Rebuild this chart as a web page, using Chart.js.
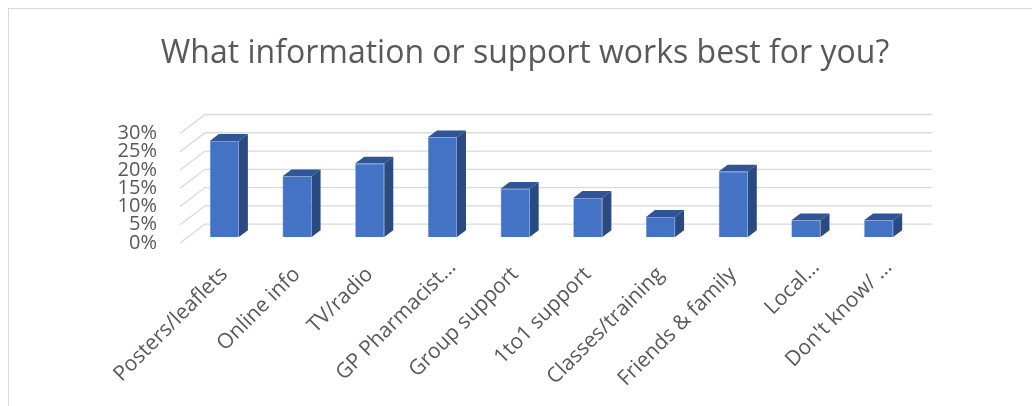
<!DOCTYPE html>
<html>
<head>
<meta charset="utf-8">
<title>What information or support works best for you?</title>
<script src="https://cdn.jsdelivr.net/npm/chart.js@4.4.1/dist/chart.umd.min.js"></script>
<style>
  html, body { margin: 0; padding: 0; background: #ffffff; overflow: hidden; }
  #wrap { position: relative; width: 1032px; height: 406px; }
  #frame { position: absolute; left: 8px; top: 8px; width: 1100px; height: 500px;
           border-top: 1px solid #d9d9d9; border-left: 1px solid #d9d9d9; pointer-events: none; }
  canvas { display: block; }
</style>
</head>
<body>
<div id="wrap">
  <canvas id="chart" width="1032" height="406"></canvas>
  <div id="frame"></div>
</div>
<script>
// Survey answers and the share of respondents choosing each (percent)
const categories = [
  "Posters/leaflets", "Online info", "TV/radio", "GP Pharmacist\u2026", "Group support",
  "1to1 support", "Classes/training", "Friends & family", "Local\u2026", "Don't know/ \u2026"
];
const shares = [26.3, 16.6, 20.1, 27.3, 13.2, 10.7, 5.5, 17.9, 4.6, 4.6];
const percentTicks = [0, 5, 10, 15, 20, 25, 30];

const TEXT_GREY = "#595959";
const FONT = "'Open Sans', 'DejaVu Sans', sans-serif";

// Oblique projection of the floor depth: bars sit a little behind the front edge
const FRONT = { x: -8, y: 6.1 };     // bar plane -> front wall edge
const BACK = { x: 17, y: -12.9 };    // bar plane -> back wall
const BAR_DEPTH = { x: 9, y: -6.8 }; // thickness of each column

// Side wall diagonals plus back wall gridlines
const wallGrid = {
  id: "wallGrid",
  beforeDatasetsDraw(chart) {
    const { ctx, chartArea, scales } = chart;
    ctx.save();
    ctx.strokeStyle = "#d9d9d9";
    ctx.lineWidth = 1.3;
    percentTicks.forEach(v => {
      const y = scales.y.getPixelForValue(v);
      ctx.beginPath();
      ctx.moveTo(chartArea.left + FRONT.x, y + FRONT.y);
      ctx.lineTo(chartArea.left + BACK.x, y + BACK.y);
      ctx.lineTo(chartArea.right + BACK.x, y + BACK.y);
      ctx.stroke();
    });
    ctx.restore();
  }
};

// Top and right faces of every column
const columnFaces = {
  id: "columnFaces",
  afterDatasetsDraw(chart) {
    const { ctx } = chart;
    const meta = chart.getDatasetMeta(0);
    ctx.save();
    meta.data.forEach(bar => {
      const p = bar.getProps(["x", "y", "base", "width"], true);
      const x0 = p.x - p.width / 2, x1 = p.x + p.width / 2;
      const yt = p.y, yb = p.base;
      // top
      ctx.fillStyle = "#2f5597";
      ctx.beginPath();
      ctx.moveTo(x0, yt);
      ctx.lineTo(x1, yt);
      ctx.lineTo(x1 + BAR_DEPTH.x, yt + BAR_DEPTH.y);
      ctx.lineTo(x0 + BAR_DEPTH.x, yt + BAR_DEPTH.y);
      ctx.closePath();
      ctx.fill();
      // right side
      ctx.fillStyle = "#2a4b82";
      ctx.beginPath();
      ctx.moveTo(x1, yt);
      ctx.lineTo(x1 + BAR_DEPTH.x, yt + BAR_DEPTH.y);
      ctx.lineTo(x1 + BAR_DEPTH.x, yb + BAR_DEPTH.y);
      ctx.lineTo(x1, yb);
      ctx.closePath();
      ctx.fill();
    });
    ctx.restore();
  }
};

// Slanted category labels under the floor
const slantedLabels = {
  id: "slantedLabels",
  afterDraw(chart) {
    const { ctx, scales } = chart;
    const xs = scales.x;
    ctx.save();
    ctx.fillStyle = TEXT_GREY;
    ctx.font = "21px " + FONT;
    ctx.textAlign = "right";
    ctx.textBaseline = "middle";
    categories.forEach((label, i) => {
      let ax = xs.getPixelForTick(i);
      let ay = 271;
      // wrapped, truncated names keep only their first line, set higher up
      if (label.endsWith("\u2026")) { ax += 10; ay -= 7; }
      ctx.save();
      ctx.translate(ax, ay);
      ctx.rotate(-Math.PI / 4);
      ctx.fillText(label, 0, 0);
      ctx.restore();
    });
    ctx.restore();
  }
};

new Chart(document.getElementById("chart"), {
  type: "bar",
  data: {
    labels: categories,
    datasets: [{
      data: shares,
      backgroundColor: "#4472c4",
      borderColor: "#5b86d0",
      borderWidth: 0.6,
      barPercentage: 0.4,
      categoryPercentage: 1
    }]
  },
  options: {
    responsive: false,
    animation: false,
    devicePixelRatio: 1,
    layout: { padding: { left: 100, right: 82, top: 35, bottom: 169 } },
    plugins: {
      legend: { display: false },
      tooltip: { enabled: false },
      title: {
        display: true,
        text: "What information or support works best for you?",
        color: TEXT_GREY,
        font: { family: FONT, size: 32, weight: "normal", lineHeight: 1.2 },
        padding: { top: 0, bottom: 54 }
      }
    },
    scales: {
      x: {
        grid: { display: false, drawTicks: false },
        border: { display: false },
        ticks: { display: false }
      },
      y: {
        min: 0,
        max: 30,
        afterFit(scale) { scale.width = 88; },
        afterBuildTicks(scale) { scale.ticks = percentTicks.map(v => ({ value: v })); },
        grid: { display: false, drawTicks: false },
        border: { display: false },
        ticks: {
          autoSkip: false,
          padding: 31,
          labelOffset: 6,
          color: TEXT_GREY,
          font: { family: FONT, size: 20 },
          callback: v => v + "%"
        }
      },
      // empty margin on the right of the floor
      yRight: {
        position: "right",
        afterFit(scale) { scale.width = 35; },
        grid: { display: false, drawTicks: false },
        border: { display: false },
        ticks: { display: false }
      }
    }
  },
  plugins: [wallGrid, columnFaces, slantedLabels]
});
</script>
</body>
</html>
